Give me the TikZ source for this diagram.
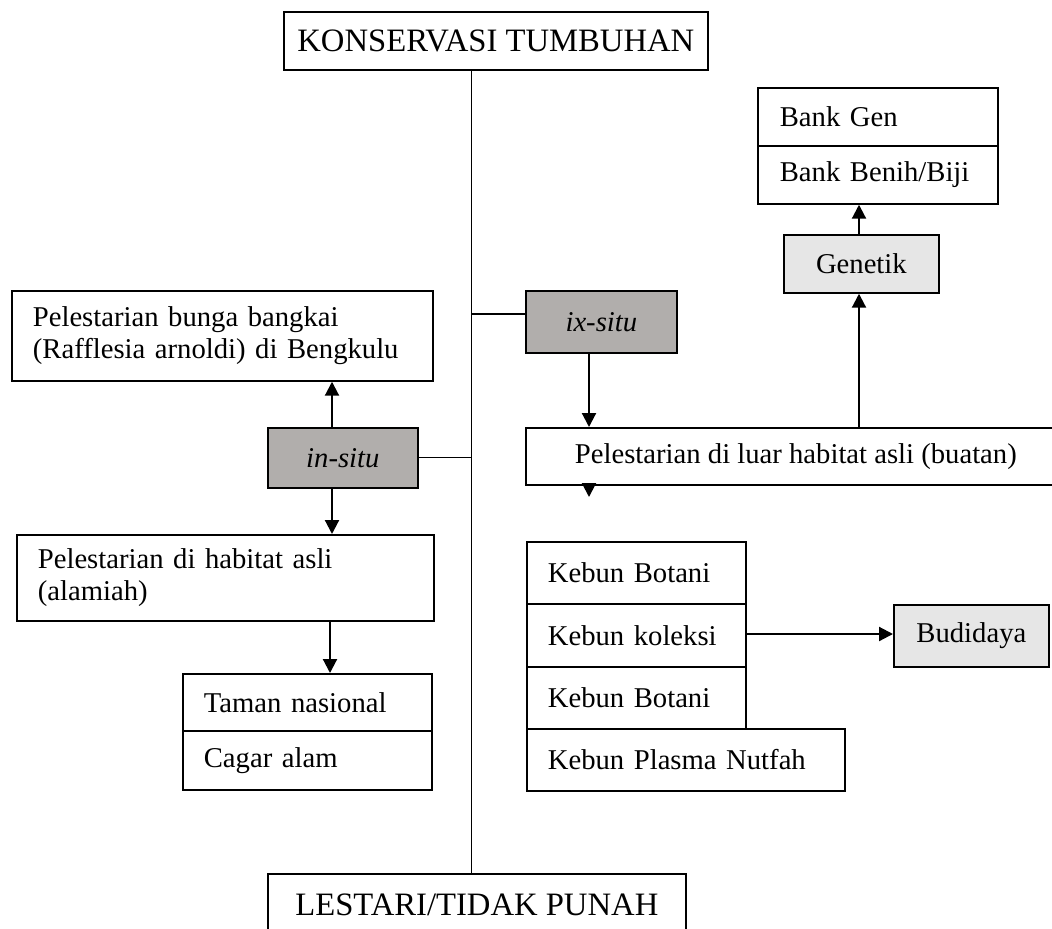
\documentclass[tikz,border=0pt]{standalone}
\usepackage{fontspec}
\setmainfont{Liberation Serif}
\usetikzlibrary{arrows.meta,calc}
\definecolor{darkfill}{HTML}{B1AEAC}
\definecolor{lightfill}{HTML}{E6E6E6}
\newcommand\bodyfont{\fontsize{21.5}{24}\selectfont}
\newcommand\bigfont{\fontsize{24.5}{28}\selectfont}
\tikzset{
  box/.style={draw, line width=1.3pt, inner sep=0pt, anchor=north west, font=\bodyfont, align=center},
  lbox/.style={box, align=left, inner xsep=15.75pt},
  darkbox/.style={box, fill=darkfill, font=\bodyfont\itshape},
  lightbox/.style={box, fill=lightfill},
  arr/.style={line width=1.6pt, -{Triangle[width=10.5pt,length=10.5pt]}},
  thin/.style={line width=0.8pt}
}
\begin{document}
\begin{tikzpicture}[x=0.75pt,y=-0.75pt]
\useasboundingbox (0,0) rectangle (1052,928);
% top and bottom
\node[box, font=\bigfont, minimum width=318pt, minimum height=43.5pt] (title) at (283,11) {KONSERVASI TUMBUHAN};
\node[box, font=\bigfont, minimum width=313.5pt, minimum height=46.5pt] (lestari) at (267,873) {LESTARI/TIDAK PUNAH};
\coordinate (trunk) at (471.5,0);
% left branch
\node[lbox, text width=284.25pt, minimum height=67.5pt] (bunga) at (11,290) {Pelestarian bunga bangkai\\(Rafflesia arnoldi) di Bengkulu};
\node[darkbox, minimum width=112.5pt, minimum height=45pt] (insitu) at (267,427) {in-situ};
\node[lbox, text width=281.25pt, minimum height=64.5pt] (habitat) at (16,534) {Pelestarian di habitat asli\\(alamiah)};
\node[lbox, text width=155.25pt, minimum height=42.75pt] (taman) at (182,673) {Taman nasional};
\node[lbox, text width=155.25pt, minimum height=44.25pt] (cagar) at (182,730) {Cagar alam};
% right branch
\node[darkbox, minimum width=113.25pt, minimum height=46.5pt] (ixsitu) at (525,290) {ix-situ};
\node[box, minimum width=405pt, minimum height=42.75pt] (luar) at (525,427) {Pelestarian di luar habitat asli (buatan)};
\node[lightbox, minimum width=116.25pt, minimum height=43.5pt] (genetik) at (783,234) {Genetik};
\node[lbox, text width=147pt, minimum height=43.5pt, inner xsep=16.5pt] (bankgen) at (757,87) {Bank Gen};
\node[lbox, text width=147pt, minimum height=43.5pt, inner xsep=16.5pt] (bankbenih) at (757,145) {Bank Benih/Biji};
\node[lbox, text width=132.75pt, minimum height=46.5pt] (kebun1) at (526,541) {Kebun Botani};
\node[lbox, text width=132.75pt, minimum height=47.25pt] (kebun2) at (526,603) {Kebun koleksi};
\node[lbox, text width=132.75pt, minimum height=46.5pt] (kebun3) at (526,666) {Kebun Botani};
\node[lbox, text width=207pt, minimum height=46.5pt] (plasma) at (526,728) {Kebun Plasma Nutfah};
\node[lightbox, minimum width=116.25pt, minimum height=46.5pt] (budidaya) at (893,604) {Budidaya};
% trunk and branches
\draw[thin] (title.south -| trunk) -- (lestari.north -| trunk);
\draw[thin] (insitu.east) -- (insitu.east -| trunk);
\coordinate (ixy) at (0,314);
\draw[thin] (trunk |- ixy) -- (ixsitu.west |- ixy);
% arrows left
\coordinate (ax1) at (332,0);
\coordinate (ax2) at (330,0);
\draw[arr] (insitu.north -| ax1) -- (bunga.south -| ax1);
\draw[arr] (insitu.south -| ax1) -- (habitat.north -| ax1);
\draw[arr] (habitat.south -| ax2) -- (taman.north -| ax2);
% arrows right
\coordinate (ax3) at (589,0);
\coordinate (ax4) at (859,0);
\coordinate (tip) at (589,497);
\draw[arr] (ixsitu.south -| ax3) -- (luar.north -| ax3);
\draw[arr] (luar.south -| ax3) -- (tip);
\draw[arr] (luar.north -| ax4) -- (genetik.south -| ax4);
\draw[arr] (genetik.north -| ax4) -- (bankbenih.south -| ax4);
\coordinate (kby) at (0,634);
\draw[arr] (kebun2.east |- kby) -- (budidaya.west |- kby);
\end{tikzpicture}
\end{document}
